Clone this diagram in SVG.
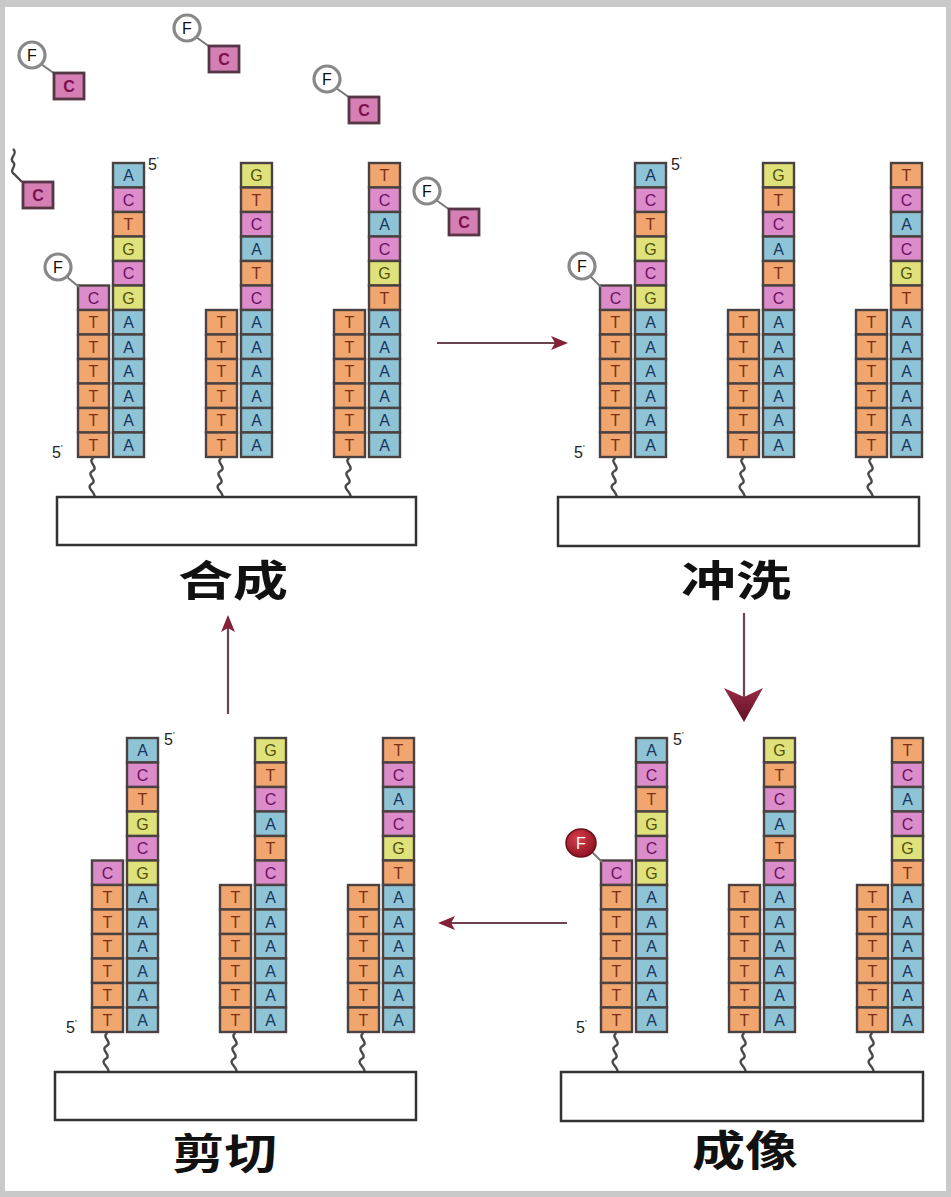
<svg xmlns="http://www.w3.org/2000/svg" xmlns:xlink="http://www.w3.org/1999/xlink" width="951" height="1197" viewBox="0 0 951 1197">
  <style>
    .cell { stroke: #4a4240; stroke-width: 2.4; }
    .fa { fill: #8fc3d6; }
    .fc { fill: #dc8cca; }
    .fg { fill: #dfe17a; }
    .ft { fill: #f0a66e; }
    .base { font-family: "Liberation Sans", Arial, sans-serif; font-size: 16px; text-anchor: middle; }
    .la { fill: #1a355c; }
    .lc { fill: #6a1060; }
    .lg { fill: #50500c; }
    .lt { fill: #7a3012; }
    .tether { fill: none; stroke: #4a4a4a; stroke-width: 2.4; }
    .slide { fill: #fff; stroke: #333; stroke-width: 2.5; }
    .prime { font-family: "Liberation Sans", Arial, sans-serif; font-size: 16px; fill: #222; }
    .step { font-family: "Noto Sans CJK SC", "Noto Sans CJK TC", sans-serif; font-weight: 700; font-size: 42px; fill: #111; }
    .dye { fill: #fff; stroke: #888; stroke-width: 3.2; }
    .dye-txt { font-family: "Liberation Sans", Arial, sans-serif; font-size: 16px; text-anchor: middle; fill: #111; }
    .link { stroke: #777; stroke-width: 2; }
    .free { fill: #d67fb4; stroke: #553644; stroke-width: 2.8; }
    .free-txt { font-family: "Liberation Sans", Arial, sans-serif; font-size: 16px; font-weight: bold; text-anchor: middle; fill: #7a1050; }
    .conn { stroke: #6b4450; stroke-width: 2.2; fill: none; }
    .head { fill: #842038; }
  </style>
  <defs>
    <radialGradient id="redDye" cx="0.4" cy="0.35" r="0.7">
      <stop offset="0" stop-color="#d8404f"/>
      <stop offset="1" stop-color="#8a0f20"/>
    </radialGradient>
    <linearGradient id="bigHead" x1="0" y1="0" x2="0" y2="1">
      <stop offset="0" stop-color="#9a2a45"/>
      <stop offset="1" stop-color="#5e1226"/>
    </linearGradient>
    <!-- single nucleotide cells -->
    <g id="cA"><rect class="cell fa" width="31" height="24.5"/><text class="base la" x="15.5" y="18">A</text></g>
    <g id="cC"><rect class="cell fc" width="31" height="24.5"/><text class="base lc" x="15.5" y="18">C</text></g>
    <g id="cG"><rect class="cell fg" width="31" height="24.5"/><text class="base lg" x="15.5" y="18">G</text></g>
    <g id="cT"><rect class="cell ft" width="31" height="24.5"/><text class="base lt" x="15.5" y="18">T</text></g>
    <!-- tether from the strand foot down to the slide -->
    <path id="tether" class="tether" d="M15.5 295 c-7 4 6 9 -1 13 c-7 4 6 9 -1 13 c-6 4 4 8 3 13"/>
    <!-- cluster 1: template ACTGCG AAAAAA, growing strand C TTTTTT -->
    <g id="strand1">
      <use xlink:href="#tether"/>
      <use xlink:href="#cA" x="35" y="0"/>
      <use xlink:href="#cC" x="35" y="24.5"/>
      <use xlink:href="#cT" x="35" y="49"/>
      <use xlink:href="#cG" x="35" y="73.5"/>
      <use xlink:href="#cC" x="35" y="98"/>
      <use xlink:href="#cG" x="35" y="122.5"/>
      <use xlink:href="#cA" x="35" y="147"/>
      <use xlink:href="#cA" x="35" y="171.5"/>
      <use xlink:href="#cA" x="35" y="196"/>
      <use xlink:href="#cA" x="35" y="220.5"/>
      <use xlink:href="#cA" x="35" y="245"/>
      <use xlink:href="#cA" x="35" y="269.5"/>
      <use xlink:href="#cC" x="0" y="122.5"/>
      <use xlink:href="#cT" x="0" y="147"/>
      <use xlink:href="#cT" x="0" y="171.5"/>
      <use xlink:href="#cT" x="0" y="196"/>
      <use xlink:href="#cT" x="0" y="220.5"/>
      <use xlink:href="#cT" x="0" y="245"/>
      <use xlink:href="#cT" x="0" y="269.5"/>
    </g>
    <!-- cluster 2: template GTCATC AAAAAA -->
    <g id="strand2">
      <use xlink:href="#tether"/>
      <use xlink:href="#cG" x="35" y="0"/>
      <use xlink:href="#cT" x="35" y="24.5"/>
      <use xlink:href="#cC" x="35" y="49"/>
      <use xlink:href="#cA" x="35" y="73.5"/>
      <use xlink:href="#cT" x="35" y="98"/>
      <use xlink:href="#cC" x="35" y="122.5"/>
      <use xlink:href="#cA" x="35" y="147"/>
      <use xlink:href="#cA" x="35" y="171.5"/>
      <use xlink:href="#cA" x="35" y="196"/>
      <use xlink:href="#cA" x="35" y="220.5"/>
      <use xlink:href="#cA" x="35" y="245"/>
      <use xlink:href="#cA" x="35" y="269.5"/>
      <use xlink:href="#cT" x="0" y="147"/>
      <use xlink:href="#cT" x="0" y="171.5"/>
      <use xlink:href="#cT" x="0" y="196"/>
      <use xlink:href="#cT" x="0" y="220.5"/>
      <use xlink:href="#cT" x="0" y="245"/>
      <use xlink:href="#cT" x="0" y="269.5"/>
    </g>
    <!-- cluster 3: template TCACGT AAAAAA -->
    <g id="strand3">
      <use xlink:href="#tether"/>
      <use xlink:href="#cT" x="35" y="0"/>
      <use xlink:href="#cC" x="35" y="24.5"/>
      <use xlink:href="#cA" x="35" y="49"/>
      <use xlink:href="#cC" x="35" y="73.5"/>
      <use xlink:href="#cG" x="35" y="98"/>
      <use xlink:href="#cT" x="35" y="122.5"/>
      <use xlink:href="#cA" x="35" y="147"/>
      <use xlink:href="#cA" x="35" y="171.5"/>
      <use xlink:href="#cA" x="35" y="196"/>
      <use xlink:href="#cA" x="35" y="220.5"/>
      <use xlink:href="#cA" x="35" y="245"/>
      <use xlink:href="#cA" x="35" y="269.5"/>
      <use xlink:href="#cT" x="0" y="147"/>
      <use xlink:href="#cT" x="0" y="171.5"/>
      <use xlink:href="#cT" x="0" y="196"/>
      <use xlink:href="#cT" x="0" y="220.5"/>
      <use xlink:href="#cT" x="0" y="245"/>
      <use xlink:href="#cT" x="0" y="269.5"/>
    </g>
    <!-- labelled C nucleotide with its dye -->
    <g id="freeC">
      <line class="link" x1="9" y1="9" x2="23" y2="19"/>
      <circle class="dye" cx="0" cy="0" r="13"/>
      <text class="dye-txt" x="0" y="6">F</text>
      <rect class="free" x="22" y="18" width="30" height="26"/>
      <text class="free-txt" x="37" y="37">C</text>
    </g>
  </defs>

  <!-- frame -->
  <rect width="951" height="1197" fill="#c9c9c9"/>
  <rect x="5" y="7" width="941" height="1184" fill="#fff"/>

  <!-- step 1: synthesis -->
  <g id="panel-synthesis">
    <use xlink:href="#freeC" x="32" y="55"/>
    <use xlink:href="#freeC" x="187" y="28"/>
    <use xlink:href="#freeC" x="327" y="79"/>
    <use xlink:href="#freeC" x="427" y="191"/>
    <g id="free-c-cleaved">
      <path class="tether" d="M13 149 c6 5 -5 9 0 13 c5 4 -5 8 1 12 l8 8"/>
      <rect class="free" x="23" y="182" width="30" height="26"/>
      <text class="free-txt" x="38" y="201">C</text>
    </g>
    <use xlink:href="#strand1" x="78" y="163"/>
    <use xlink:href="#strand2" x="206" y="163"/>
    <use xlink:href="#strand3" x="334" y="163"/>
    <line class="link" x1="67" y1="277" x2="79" y2="287"/>
    <circle class="dye" cx="58" cy="267" r="13"/>
    <text class="dye-txt" x="58" y="273">F</text>
    <text class="prime" x="148" y="170">5<tspan font-size="9" dy="-7">'</tspan></text>
    <text class="prime" x="52" y="458">5<tspan font-size="9" dy="-7">'</tspan></text>
    <rect class="slide" x="57" y="497" width="359" height="48"/>
    <text class="step" x="178" y="596" textLength="110" lengthAdjust="spacingAndGlyphs">合成</text>
  </g>

  <!-- step 2: wash -->
  <g id="panel-wash">
    <use xlink:href="#strand1" x="600" y="163"/>
    <use xlink:href="#strand2" x="728" y="163"/>
    <use xlink:href="#strand3" x="856" y="163"/>
    <line class="link" x1="590" y1="276" x2="601" y2="287"/>
    <circle class="dye" cx="582" cy="266" r="13"/>
    <text class="dye-txt" x="582" y="272">F</text>
    <text class="prime" x="671" y="170">5<tspan font-size="9" dy="-7">'</tspan></text>
    <text class="prime" x="574" y="458">5<tspan font-size="9" dy="-7">'</tspan></text>
    <rect class="slide" x="558" y="497" width="361" height="49"/>
    <text class="step" x="681" y="596" textLength="110" lengthAdjust="spacingAndGlyphs">冲洗</text>
  </g>

  <!-- step 3: imaging -->
  <g id="panel-imaging">
    <use xlink:href="#strand1" x="601" y="738"/>
    <use xlink:href="#strand2" x="729" y="738"/>
    <use xlink:href="#strand3" x="857" y="738"/>
    <line class="link" x1="592" y1="852" x2="602" y2="862"/>
    <ellipse cx="581" cy="843" rx="15" ry="14" fill="url(#redDye)" stroke="#6b0f1a" stroke-width="1.5"/>
    <text class="dye-txt" x="581" y="849" style="fill:#fff">F</text>
    <text class="prime" x="673" y="745">5<tspan font-size="9" dy="-7">'</tspan></text>
    <text class="prime" x="576" y="1033">5<tspan font-size="9" dy="-7">'</tspan></text>
    <rect class="slide" x="561" y="1072" width="362" height="49"/>
    <text class="step" x="692" y="1166" textLength="106" lengthAdjust="spacingAndGlyphs">成像</text>
  </g>

  <!-- step 4: cleavage -->
  <g id="panel-cleavage">
    <use xlink:href="#strand1" x="92" y="738"/>
    <use xlink:href="#strand2" x="220" y="738"/>
    <use xlink:href="#strand3" x="348" y="738"/>
    <text class="prime" x="164" y="745">5<tspan font-size="9" dy="-7">'</tspan></text>
    <text class="prime" x="66" y="1033">5<tspan font-size="9" dy="-7">'</tspan></text>
    <rect class="slide" x="55" y="1072" width="361" height="48"/>
    <text class="step" x="172" y="1169" textLength="105" lengthAdjust="spacingAndGlyphs">剪切</text>
  </g>

  <!-- cycle arrows -->
  <g id="connectors">
    <line class="conn" x1="437" y1="343" x2="556" y2="343"/>
    <polygon class="head" points="568,343 551,336 555,343 551,350"/>
    <line class="conn" x1="744" y1="613" x2="744" y2="698"/>
    <polygon fill="url(#bigHead)" points="744,722 724,688 744,697 763,688"/>
    <line class="conn" x1="567" y1="923" x2="450" y2="923"/>
    <polygon class="head" points="438,923 455,916 451,923 455,930"/>
    <line class="conn" x1="228" y1="714" x2="228" y2="628"/>
    <polygon class="head" points="228,615 221,632 228,628 235,632"/>
  </g>
</svg>
